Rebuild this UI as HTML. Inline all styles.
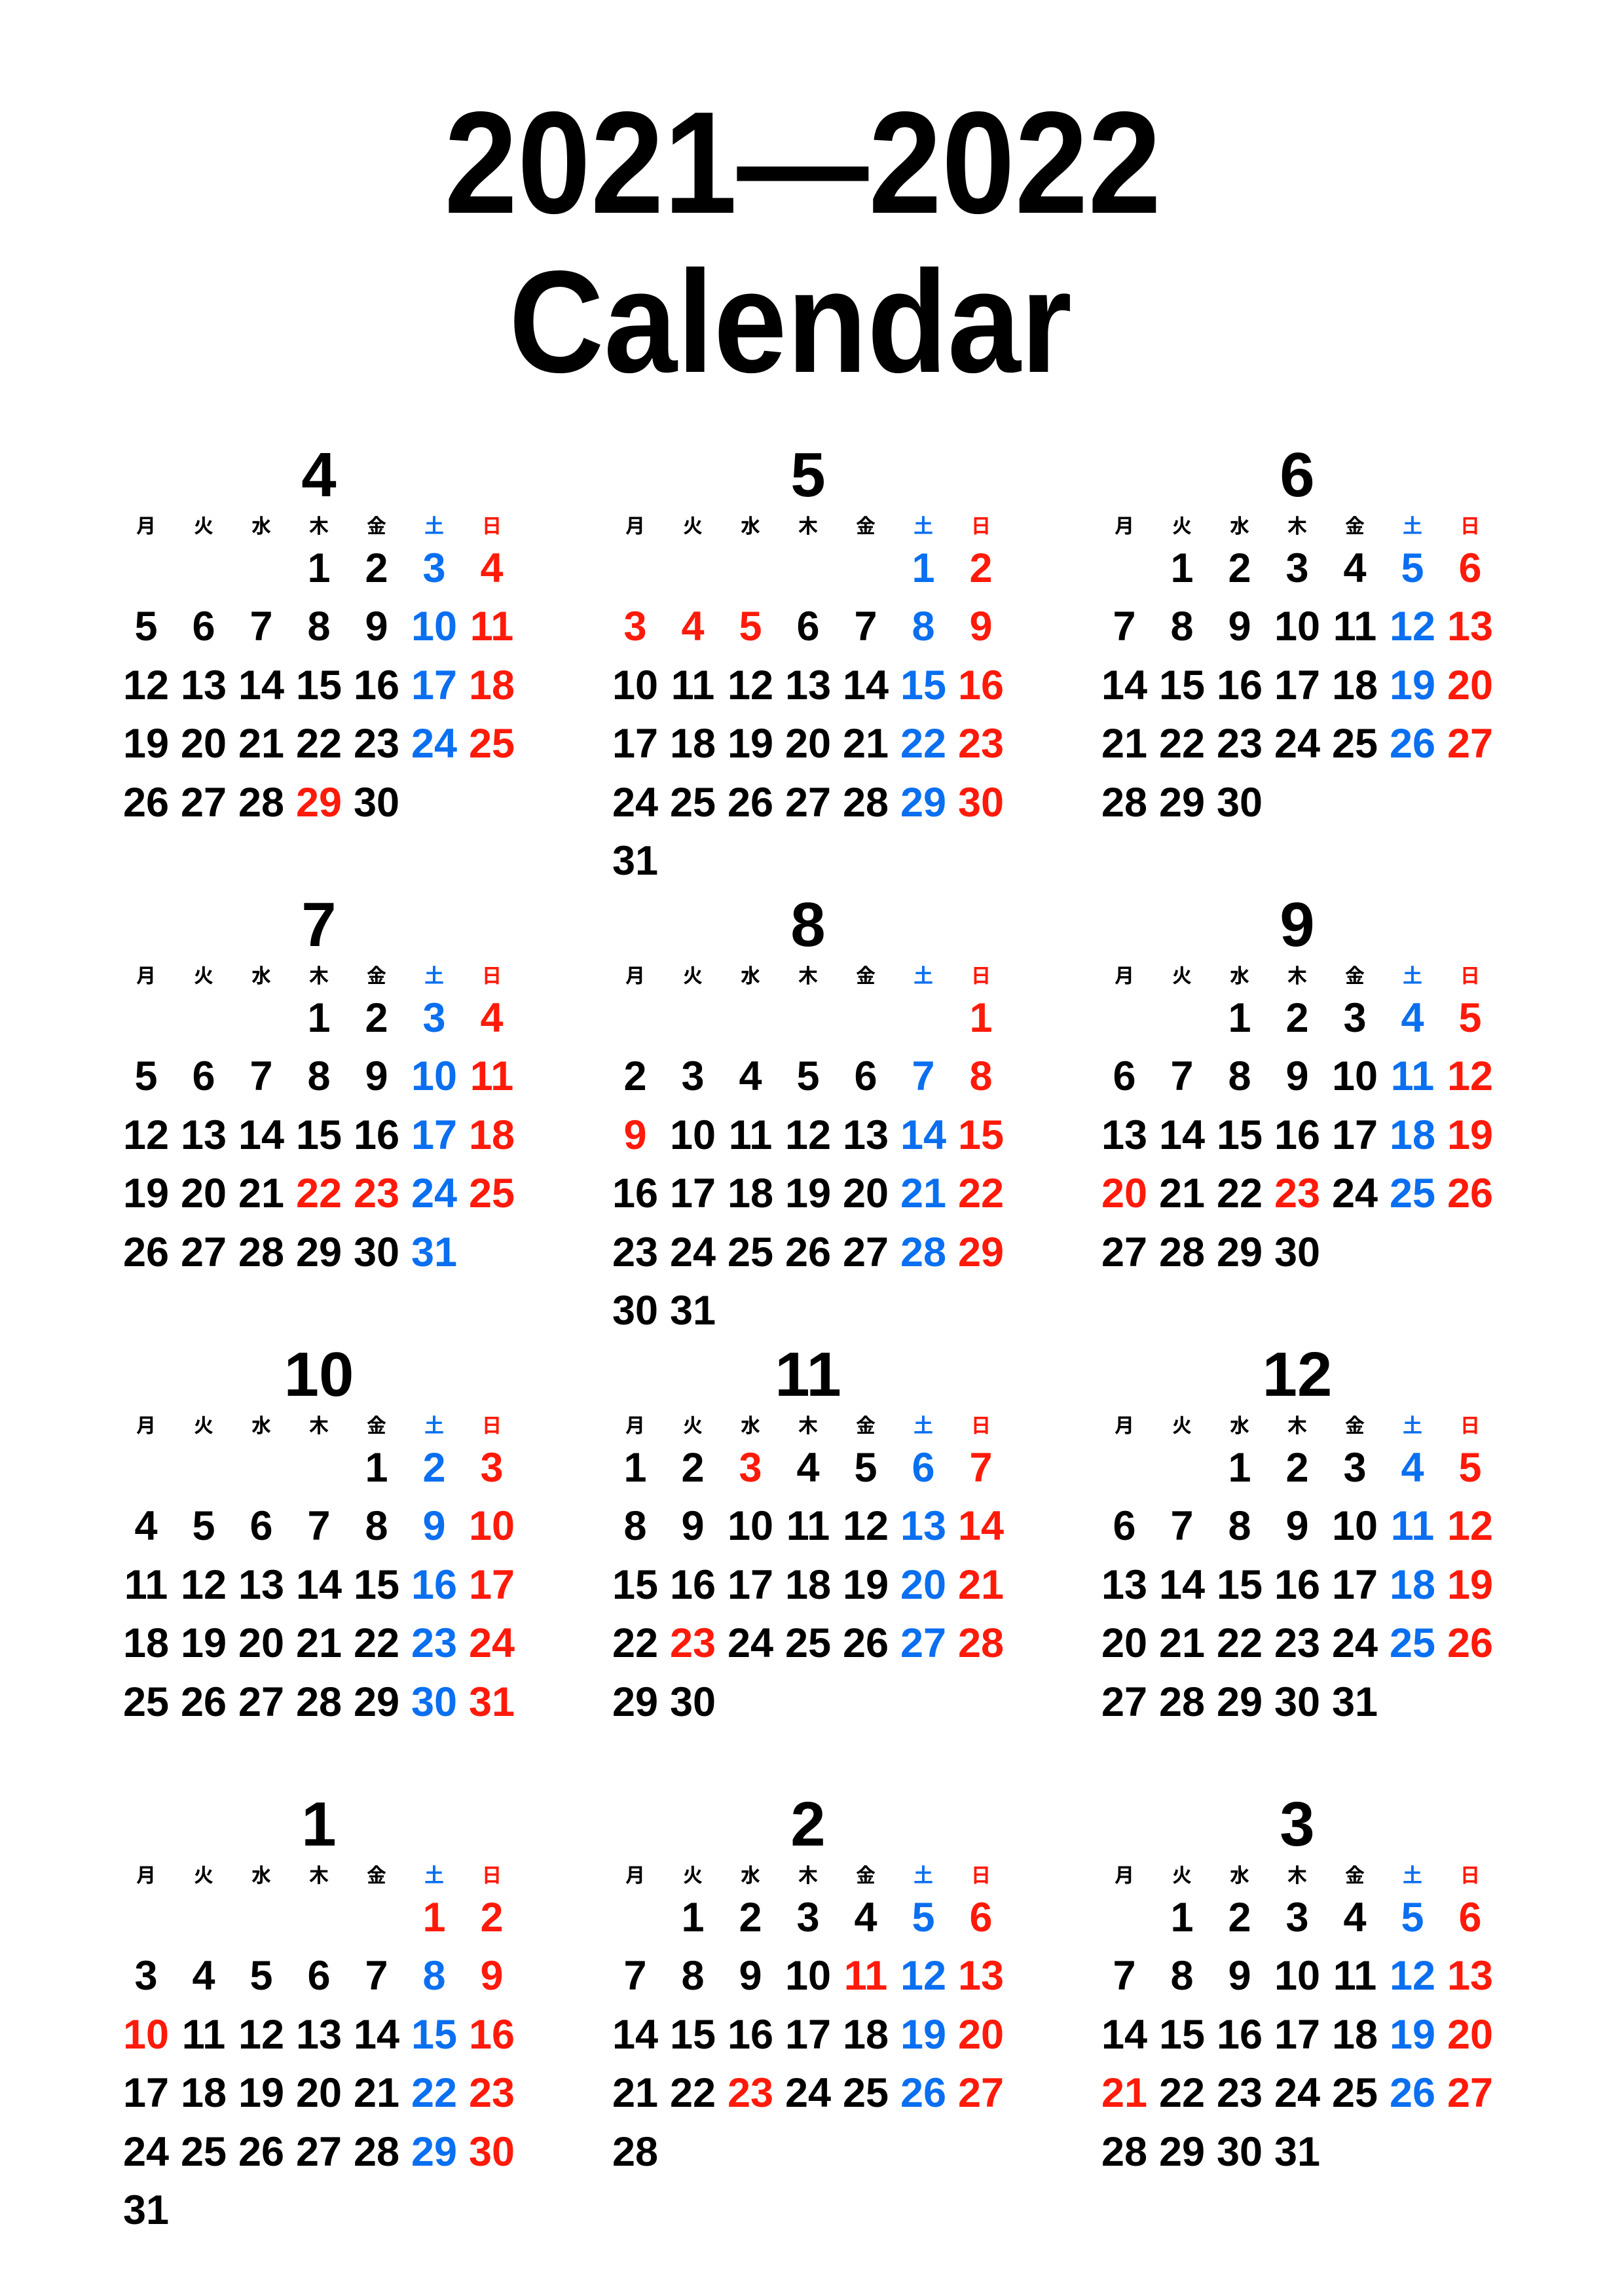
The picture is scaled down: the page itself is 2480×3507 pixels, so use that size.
<!DOCTYPE html>
<html><head><meta charset="utf-8">
<style>
html,body{margin:0;padding:0;background:#fff;}
body{width:2480px;height:3507px;position:relative;overflow:hidden;font-family:"Liberation Sans","Noto Sans CJK JP",sans-serif;font-weight:bold;color:#000;}
.t{position:absolute;white-space:nowrap;text-align:center;}
.k{color:#000}.b{color:#0a6ff0}.r{color:#ff1a0a}
</style></head><body>
<div class="t" style="left:0;width:2452px;top:138px;font-size:222px;line-height:222px;"><span style="display:inline-block;transform:scaleX(0.905)">2021—2022</span></div>
<div class="t" style="left:0;width:2414px;top:381px;font-size:222px;line-height:222px;"><span style="display:inline-block;transform:scaleX(0.905)">Calendar</span></div>
<div id="c"></div>
<script>
var months=[[4,3,30,[29]],[5,5,31,[3,4,5]],[6,1,30,[]],[7,3,31,[22,23]],[8,6,31,[9]],[9,2,30,[20,23]],[10,4,31,[]],[11,0,30,[3,23]],[12,2,31,[]],[1,5,31,[1,10]],[2,1,28,[11,23]],[3,1,31,[21]]];
var wd=["月","火","水","木","金","土","日"];
var h="";
function put(x,y,fs,txt,cls,w){w=w||200;h+='<div class="t '+cls+'" style="left:'+(x-w/2)+'px;top:'+(y-fs/2)+'px;width:'+w+'px;font-size:'+fs+'px;line-height:'+fs+'px">'+txt+'</div>';}
months.forEach(function(m,i){
 var bx=223+(i%3)*747, by=726+Math.floor(i/3)*687;
 put(bx+3*88,by,96,m[0],'k',300);
 for(var d=0;d<7;d++){put(bx+d*88,by+79,30,wd[d],d==5?'b':(d==6?'r':'k'));}
 for(var day=1;day<=m[2];day++){
  var p=m[1]+day-1, col=p%7, row=Math.floor(p/7);
  var cls=(col==6||m[3].indexOf(day)>=0)?'r':(col==5?'b':'k');
  put(bx+col*88,by+142+row*89.5,63,day,cls,120);
 }
});
document.getElementById('c').innerHTML=h;
</script>
</body></html>
